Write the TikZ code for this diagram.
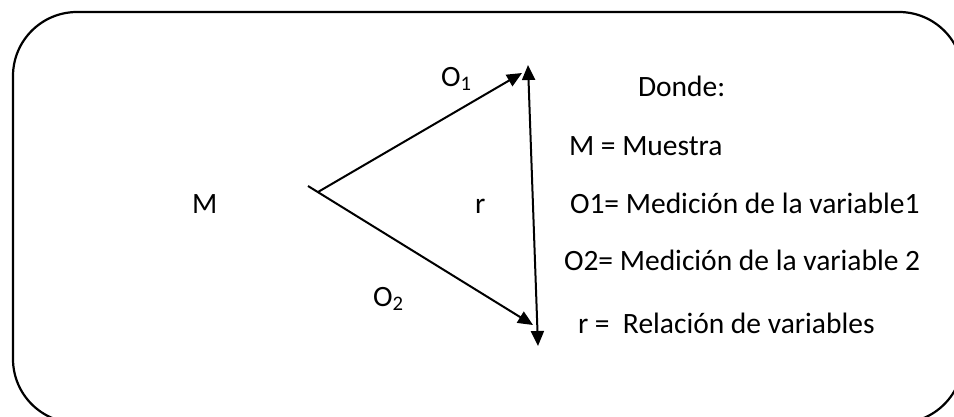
\documentclass[tikz,border=0pt]{standalone}
\usepackage{fontspec}
\setmainfont{Carlito}
\usetikzlibrary{arrows.meta, positioning}

\begin{document}
\begin{tikzpicture}[x=1pt, y=-1pt, line width=2pt,
    >={Triangle[length=15pt, width=13pt]},
    txt/.style={font=\fontsize{29.5}{34}\selectfont, inner sep=0pt, anchor=base west}]
    \useasboundingbox (0,0) rectangle (954,416);

    % marco
    \draw[line width=2.2pt, rounded corners=64pt] (13,12) rectangle (963,423);

    % puntos del esquema
    \coordinate (tick) at (308,186);
    \coordinate (vert) at (318,192);
    \coordinate (tipA) at (522,73);
    \coordinate (tipB) at (533,325);
    \coordinate (rTop) at (528,65);
    \coordinate (rBot) at (538,346);

    % flechas
    \draw[->] (vert) -- (tipA);
    \draw[->] (tick) -- (tipB);
    \draw[<->] (rTop) -- (rBot);

    % etiquetas
    \node[txt] (m) at (191,213) {M};
    \node[txt] (r) at (474,213) {r};
    \node[txt] (o1) at (440,86) {O\textsubscript{1}};
    \node[txt] (o2) at (372,306) {O\textsubscript{2}};

    % leyenda
    \node[txt] (donde) at (637,96) {Donde:};
    \node[txt] (leyM) at (568,155) {M = Muestra};
    \node[txt] (leyO1) at (569,213) {O1= Medición de la variable1};
    \node[txt] (leyO2) at (563,270) {O2= Medición de la variable 2};
    \node[txt] (leyR) at (577,333) {r =\ \ Relación de variables};
\end{tikzpicture}
\end{document}
